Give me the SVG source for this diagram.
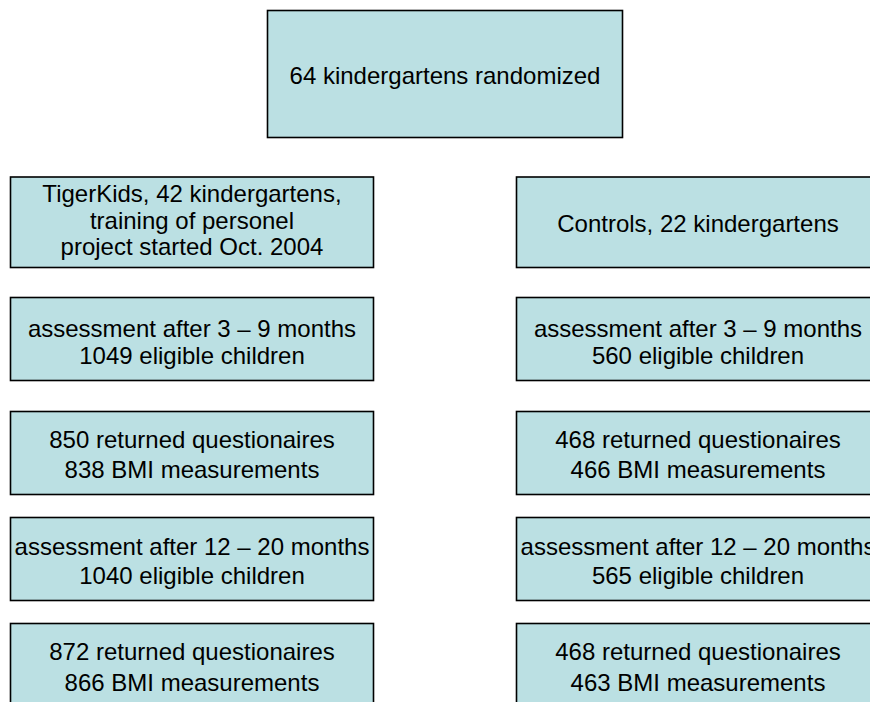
<svg xmlns="http://www.w3.org/2000/svg" width="870" height="702" viewBox="0 0 870 702">
<style>
.box{fill:#BBE0E3;stroke:#000;stroke-width:1.6}
.t{font-family:"Liberation Sans",Arial,sans-serif;font-size:24px;fill:#000;text-anchor:middle}
</style>
<rect width="870" height="702" fill="#fff"/>
<g id="connectors"></g>
<g id="top">
<rect class="box" x="267.5" y="10.5" width="355" height="127"/>
<text class="t" x="445" y="84">64 kindergartens randomized</text>
</g>
<g id="tiger">
<rect class="box" x="10.5" y="177" width="363" height="90.5"/>
<text class="t" x="192" y="202">TigerKids, 42 kindergartens,</text>
<text class="t" x="192" y="228.5">training of personel</text>
<text class="t" x="192" y="255">project started Oct. 2004</text>
</g>
<g id="controls">
<rect class="box" x="516.5" y="177" width="363" height="90.5"/>
<text class="t" x="698" y="231.5">Controls, 22 kindergartens</text>
</g>
<g id="tiger-assess1">
<rect class="box" x="10.5" y="297.5" width="363" height="83"/>
<text class="t" x="192" y="336.5">assessment after 3 – 9 months</text>
<text class="t" x="192" y="364">1049 eligible children</text>
</g>
<g id="controls-assess1">
<rect class="box" x="516.5" y="297.5" width="363" height="83"/>
<text class="t" x="698" y="336.5">assessment after 3 – 9 months</text>
<text class="t" x="698" y="364">560 eligible children</text>
</g>
<g id="tiger-return1">
<rect class="box" x="10.5" y="411.5" width="363" height="83"/>
<text class="t" x="192" y="448">850 returned questionaires</text>
<text class="t" x="192" y="478">838 BMI measurements</text>
</g>
<g id="controls-return1">
<rect class="box" x="516.5" y="411.5" width="363" height="83"/>
<text class="t" x="698" y="448">468 returned questionaires</text>
<text class="t" x="698" y="478">466 BMI measurements</text>
</g>
<g id="tiger-assess2">
<rect class="box" x="10.5" y="517.5" width="363" height="83"/>
<text class="t" x="192" y="555">assessment after 12 – 20 months</text>
<text class="t" x="192" y="584">1040 eligible children</text>
</g>
<g id="controls-assess2">
<rect class="box" x="516.5" y="517.5" width="363" height="83"/>
<text class="t" x="698" y="555">assessment after 12 – 20 months</text>
<text class="t" x="698" y="584">565 eligible children</text>
</g>
<g id="tiger-return2">
<rect class="box" x="10.5" y="623.5" width="363" height="83"/>
<text class="t" x="192" y="660">872 returned questionaires</text>
<text class="t" x="192" y="690.5">866 BMI measurements</text>
</g>
<g id="controls-return2">
<rect class="box" x="516.5" y="623.5" width="363" height="83"/>
<text class="t" x="698" y="660">468 returned questionaires</text>
<text class="t" x="698" y="690.5">463 BMI measurements</text>
</g>
</svg>
